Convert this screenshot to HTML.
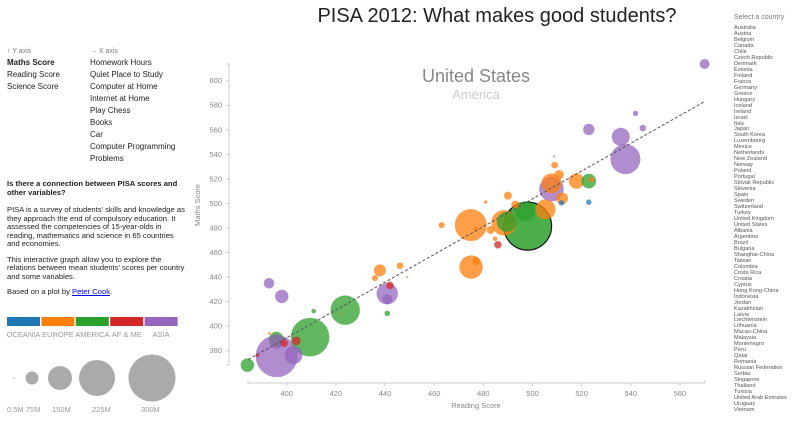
<!DOCTYPE html>
<html><head><meta charset="utf-8"><style>
body{margin:0;width:800px;height:431px;overflow:hidden;background:#fff;font-family:"Liberation Sans",sans-serif;position:relative}
.a{position:absolute;white-space:nowrap}
.m{font-size:8px;color:#222;line-height:12px}
.c{font-size:5.6px;color:#555;line-height:5.97px}
p{margin:0}
</style></head><body>
<div class="a" style="left:297px;top:5px;width:400px;text-align:center;font-size:20px;color:#222">PISA 2012: What makes good students?</div>
<div class="a" style="left:7px;top:47px">
<div style="font-size:7px;color:#777;line-height:10px">↑ Y axis</div>
<div class="m" style="font-weight:bold">Maths Score</div>
<div class="m">Reading Score</div>
<div class="m">Science Score</div>
</div>
<div class="a" style="left:90px;top:47px">
<div style="font-size:7px;color:#777;line-height:10px">→ X axis</div>
<div class="m">Homework Hours</div>
<div class="m">Quiet Place to Study</div>
<div class="m">Computer at Home</div>
<div class="m">Internet at Home</div>
<div class="m">Play Chess</div>
<div class="m">Books</div>
<div class="m">Car</div>
<div class="m">Computer Programming</div>
<div class="m">Problems</div>
</div>
<div class="a" style="left:7px;top:180px;width:180px;white-space:normal;font-size:7.6px;line-height:8.5px;color:#222">
<p style="font-weight:bold;margin-bottom:9px">Is there a connection between PISA scores and other variables?</p>
<p style="margin-bottom:7px">PISA is a survey of students' skills and knowledge as they approach the end of compulsory education. It assessed the competencies of 15-year-olds in reading, mathematics and science in 65 countries and economies.</p>
<p style="margin-bottom:7px">This interactive graph allow you to explore the relations between mean students' scores per country and some variables.</p>
<p>Based on a plot by <a href="#" style="color:#00e">Peter Cook</a>.</p>
</div>
<svg class="a" style="left:0;top:0" width="800" height="431" id="svg"></svg>
<div class="a" style="left:734px;top:13px">
<div style="font-size:7px;color:#777;line-height:10px;margin-bottom:3px">Select a country</div>
<div id="cl"></div>
</div>
<script>
const NS="http://www.w3.org/2000/svg";
const svg=document.getElementById('svg');
function mk(t,a,p){const e=document.createElementNS(NS,t);for(const k in a)e.setAttribute(k,a[k]);(p||svg).appendChild(e);return e;}
const countries=["Australia","Austria","Belgium","Canada","Chile","Czech Republic","Denmark","Estonia","Finland","France","Germany","Greece","Hungary","Iceland","Ireland","Israel","Italy","Japan","South Korea","Luxembourg","Mexico","Netherlands","New Zealand","Norway","Poland","Portugal","Slovak Republic","Slovenia","Spain","Sweden","Switzerland","Turkey","United Kingdom","United States","Albania","Argentina","Brazil","Bulgaria","Shanghai-China","Taiwan","Colombia","Costa Rica","Croatia","Cyprus","Hong Kong-China","Indonesia","Jordan","Kazakhstan","Latvia","Liechtenstein","Lithuania","Macao-China","Malaysia","Montenegro","Peru","Qatar","Romania","Russian Federation","Serbia","Singapore","Thailand","Tunisia","United Arab Emirates","Uruguay","Vietnam"];
const cl=document.getElementById('cl');
countries.forEach(c=>{const d=document.createElement('div');d.className='c';d.textContent=c;


cl.appendChild(d);});
// chart data
const xTicks=[400,420,440,460,480,500,520,540,560];
const yTicks=[380,400,420,440,460,480,500,520,540,560,580,600];
const reading=[570,541.9,544.9,522.9,535.9,537.8,508.8,509,510.8,517.9,522.9,524,507.7,507.7,512,511.8,522.9,490,480.9,505.3,493,497,488.4,489.5,474.9,482.9,463,477,484.8,485.9,498,475,477,437.9,446.1,435.9,449,442,440.9,440.9,440.9,423.8,422,411,392.8,398,409.5,403.9,399,395.8,395.8,393,395.9,402.8,388.1,384];
const maths=[613.6,573.4,561.4,560.3,554.3,536.1,538.3,531.2,523.4,518.2,518.2,519.3,516.3,511.7,504.1,500.5,501.1,506.3,501.1,495.1,499,493.5,484.2,485,482.3,478.3,482.3,479.5,471.2,466.3,481.5,448.1,453,445.4,449.2,439.1,440,433.2,426.4,422,410.4,413,410,412.2,434.9,424.2,391,388,386.1,389.4,387.5,394,375.5,376.4,376.1,368.2];
const pop=[5,2.7,3.3,5.7,9,15,1,3.3,4.7,7.7,7.3,2.7,10,12.3,6,2.7,2.7,4,1.7,10,4,10,12.7,10,16,4,3,2.3,2.3,3.7,24,11.7,4,6,3.3,3,1,3.7,10.7,5,2.7,14.7,1,2.3,5.3,6.7,19.3,4.3,3.7,7.3,7.3,1.3,21,9,1.7,6.7];
const region=[4,4,4,4,4,4,4,1,1,1,2,1,1,4,1,0,0,1,1,1,1,2,1,2,1,1,1,1,1,3,2,1,1,1,1,1,1,3,4,4,2,2,1,2,4,4,2,3,3,2,4,1,4,4,3,2];
const colors=["#1f77b4","#ff7f0e","#2ca02c","#d62728","#9467bd"];
const trend=[[384.4,372.8],[570,583]];
const X=v=>286.7+(v-400)*2.458, Y=v=>80.7+(600-v)*1.227;
// axes
mk('path',{d:'M226,64H229V365H226',stroke:'#ccc',fill:'none'});
mk('path',{d:'M248,380V383H705V380',stroke:'#ccc',fill:'none'});
yTicks.forEach(t=>{mk('line',{x1:226,x2:229,y1:Y(t),y2:Y(t),stroke:'#ccc'});const e=mk('text',{x:222,y:Y(t)+2.5,'text-anchor':'end','font-size':7.5,fill:'#888'});e.textContent=t;

});
xTicks.forEach(t=>{mk('line',{x1:X(t),x2:X(t),y1:383,y2:386,stroke:'#ccc'});const e=mk('text',{x:X(t),y:396,'text-anchor':'middle','font-size':7.5,fill:'#888'});e.textContent=t;

});
let t=mk('text',{x:476,y:408,'text-anchor':'middle','font-size':7.5,fill:'#888'});t.textContent='Reading Score';


t=mk('text',{x:0,y:0,transform:'translate(200,205) rotate(-90)','text-anchor':'middle','font-size':7.5,fill:'#888'});t.textContent='Maths Score';


t=mk('text',{x:476,y:82,'text-anchor':'middle','font-size':18,fill:'#888'});t.textContent='United States';


t=mk('text',{x:476,y:99,'text-anchor':'middle','font-size':13,fill:'#ccc'});t.textContent='America';


// bubbles sorted big first
const idx=reading.map((_,i)=>i).sort((a,b)=>pop[b]-pop[a]);
idx.forEach(i=>{const c=mk('circle',{cx:X(reading[i]),cy:Y(maths[i]),r:pop[i],fill:colors[region[i]],'fill-opacity':0.75});
if(i===30){c.setAttribute('stroke','#111');c.setAttribute('stroke-width',1.2);c.setAttribute('fill-opacity',0.85);}

});
const tl=mk('line',{x1:X(trend[0][0]),y1:Y(trend[0][1]),x2:X(trend[1][0]),y2:Y(trend[1][1]),stroke:'#555','stroke-width':1,'stroke-dasharray':'3,2'});


// region legend
const regions=["OCEANIA","EUROPE","AMERICA","AF & ME","ASIA"];
regions.forEach((r,i)=>{const x=7+i*34.4;const b=mk('rect',{x:x,y:317,width:33,height:9,fill:colors[i]});


const e=mk('text',{x:x+16.5,y:337,'text-anchor':'middle','font-size':7.5,fill:'#999'});e.textContent=r;

});
// size legend
const sizeR=[0.7,6.5,12,18,23.5], sizeX=[14,32,60,97,152];
sizeR.forEach((r,i)=>{const c=mk('circle',{cx:sizeX[i],cy:378,r:r,fill:'#aaa'});

});
[["0.5M 75M",7],["150M",52],["225M",92],["300M",141]].forEach(([s,x])=>{const e=mk('text',{x:x,y:412,'font-size':7.5,fill:'#999'});e.textContent=s;

});
</script>
</body></html>
